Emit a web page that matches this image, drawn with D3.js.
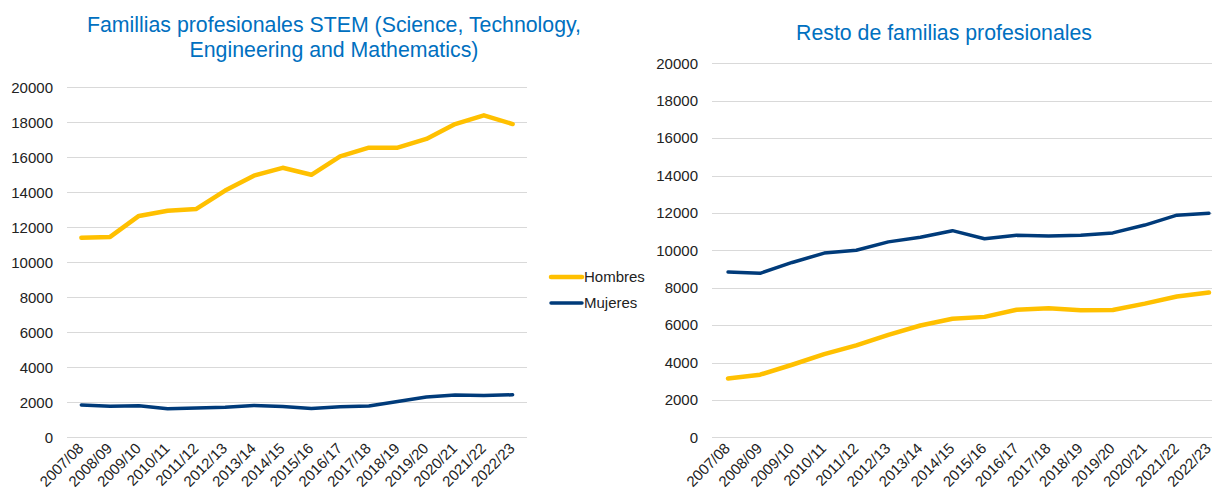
<!DOCTYPE html>
<html>
<head>
<meta charset="utf-8">
<script src="https://cdn.jsdelivr.net/npm/d3@7"></script>
<style>
  body { margin: 0; background: #fff; }
  svg { display: block; font-family: "Liberation Sans", Arial, sans-serif; }
  .grid line { stroke: #d9d9d9; stroke-width: 1; }
  .tick text { fill: #222; font-size: 15px; }
</style>
</head>
<body>
<svg id="chart" width="1212" height="498"></svg>
<script>
// categories (school years)
var cursos = ["2007/08","2008/09","2009/10","2010/11","2011/12","2012/13","2013/14","2014/15",
              "2015/16","2016/17","2017/18","2018/19","2019/20","2020/21","2021/22","2022/23"];
var yTicks = [0,2000,4000,6000,8000,10000,12000,14000,16000,18000,20000];

// STEM
var stemHombres = [11400,11450,12650,12950,13050,14100,14950,15400,15000,16050,16550,16550,17050,17900,18400,17900];
var stemMujeres = [1850,1780,1800,1630,1680,1720,1820,1760,1650,1740,1790,2050,2300,2420,2390,2430];

// resto de familias
var restoHombres = [3150,3350,3880,4450,4920,5480,5980,6340,6440,6820,6900,6800,6810,7150,7530,7740];
var restoMujeres = [8840,8770,9350,9850,10000,10450,10700,11050,10620,10800,10760,10800,10930,11350,11880,11980];

var colorH = "#ffc000", colorM = "#003b7a", titleColor = "#0070c0";

var svg = d3.select("#chart");

function drawPanel(opt) {
  var x = d3.scaleBand().domain(cursos).range([opt.x0, opt.x1]);
  var y = d3.scaleLinear().domain([0, 20000]).range([opt.yBottom, opt.yTop]);
  var g = svg.append("g");

  // gridlines
  g.append("g").attr("class", "grid")
    .selectAll("line").data(yTicks).enter().append("line")
    .attr("x1", opt.x0).attr("x2", opt.x1)
    .attr("y1", function(d) { return Math.round(y(d)) + 0.5; })
    .attr("y2", function(d) { return Math.round(y(d)) + 0.5; });

  // y axis
  var ya = g.append("g").attr("transform", "translate(" + opt.x0 + ",0)")
    .call(d3.axisLeft(y).tickValues(yTicks).tickSize(0).tickPadding(14).tickFormat(d3.format("d")));
  ya.select(".domain").remove();

  // x axis, labels rotated -45
  var xa = g.append("g").attr("transform", "translate(0," + opt.yBottom + ")")
    .call(d3.axisBottom(x).tickSize(0));
  xa.select(".domain").remove();
  xa.selectAll("text")
    .style("text-anchor", "end")
    .attr("x", 0).attr("y", 0).attr("dy", null)
    .attr("transform", "translate(3,12) rotate(-45)");

  var line = d3.line()
    .x(function(d, i) { return x(cursos[i]) + x.bandwidth() / 2; })
    .y(function(d) { return y(d); });

  g.append("path").datum(opt.mujeres)
    .attr("fill", "none").attr("stroke", colorM).attr("stroke-width", 3.5)
    .attr("stroke-linecap", "round").attr("stroke-linejoin", "round")
    .attr("d", line);
  g.append("path").datum(opt.hombres)
    .attr("fill", "none").attr("stroke", colorH).attr("stroke-width", 4.5)
    .attr("stroke-linecap", "round").attr("stroke-linejoin", "round")
    .attr("d", line);

  // title
  var t = g.append("text").attr("text-anchor", "middle")
    .attr("fill", titleColor).style("font-size", "21.3px");
  opt.title.forEach(function(s, i) {
    t.append("tspan").attr("x", opt.titleX).attr("y", opt.titleY + i * 25).text(s);
  });
}

drawPanel({
  x0: 67, x1: 527, yTop: 87.3, yBottom: 437.3,
  hombres: stemHombres, mujeres: stemMujeres,
  title: ["Famillias profesionales STEM (Science, Technology,", "Engineering and Mathematics)"],
  titleX: 334, titleY: 32
});

drawPanel({
  x0: 712, x1: 1225, yTop: 63.3, yBottom: 437.3,
  hombres: restoHombres, mujeres: restoMujeres,
  title: ["Resto de familias profesionales"],
  titleX: 944, titleY: 40
});

// legend
var legend = [["Hombres", colorH, 4.5], ["Mujeres", colorM, 3.5]];
var lg = svg.append("g").selectAll("g").data(legend).enter().append("g")
  .attr("transform", function(d, i) { return "translate(551," + (277 + i * 26) + ")"; });
lg.append("line").attr("x1", 0).attr("x2", 31)
  .attr("stroke", function(d) { return d[1]; })
  .attr("stroke-width", function(d) { return d[2]; })
  .attr("stroke-linecap", "round");
lg.append("text").attr("x", 33).attr("y", 5).style("font-size", "15px").attr("fill", "#222")
  .text(function(d) { return d[0]; });
</script>
</body>
</html>
